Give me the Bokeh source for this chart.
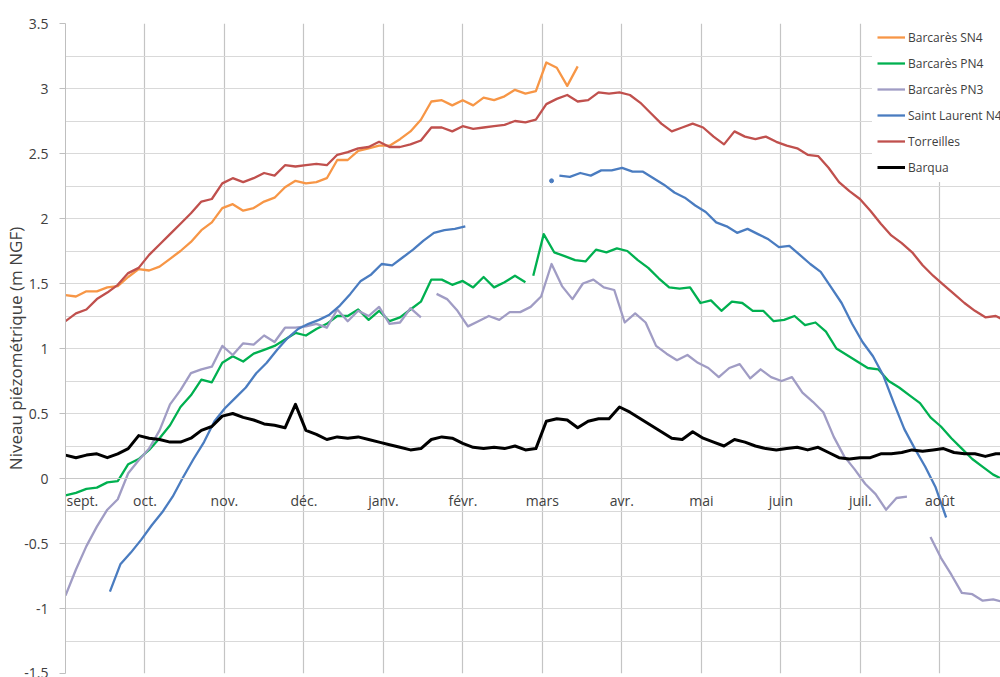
from bokeh.plotting import figure
from bokeh.models import Range1d, FixedTicker, NumeralTickFormatter, Legend, LegendItem, Label, Span
from bokeh.embed import file_html
from bokeh.resources import INLINE

# ---------------- data ----------------
# x = days since 1 September, series sampled every STEP days from a start day
STEP = 4

months = ["sept.", "oct.", "nov.", "déc.", "janv.", "févr.", "mars", "avr.", "mai", "juin", "juil.", "août"]
month_start_days = [0, 30.42, 60.83, 91.25, 121.67, 152.08, 182.5, 212.92, 243.33, 273.75, 304.17, 334.58]

y_major_ticks = [-1.5, -1, -0.5, 0, 0.5, 1, 1.5, 2, 2.5, 3, 3.5]
y_grid_ticks = [-1.5, -1.25, -1, -0.75, -0.5, -0.25, 0, 0.25, 0.5, 0.75, 1, 1.25, 1.5,
                1.75, 2, 2.25, 2.5, 2.75, 3, 3.25, 3.5]

barcares_sn4_start = 0
barcares_sn4 = [1.41, 1.40, 1.44, 1.44, 1.47, 1.48, 1.55, 1.61, 1.60, 1.63,
                1.69, 1.75, 1.82, 1.91, 1.97, 2.08, 2.11, 2.06, 2.08, 2.13,
                2.16, 2.24, 2.29, 2.27, 2.28, 2.31, 2.45, 2.45, 2.52, 2.54,
                2.56, 2.56, 2.61, 2.67, 2.76, 2.90, 2.91, 2.87, 2.91, 2.87,
                2.93, 2.91, 2.94, 2.99, 2.96, 2.98, 3.20, 3.16, 3.02, 3.17]

barcares_pn4_a_start = 0
barcares_pn4_a = [-0.13, -0.11, -0.08, -0.07, -0.03, -0.02, 0.11, 0.15, 0.22, 0.31,
                  0.41, 0.55, 0.64, 0.76, 0.74, 0.89, 0.94, 0.90, 0.96, 0.99,
                  1.02, 1.07, 1.12, 1.10, 1.15, 1.19, 1.25, 1.25, 1.30, 1.22,
                  1.29, 1.21, 1.24, 1.30, 1.36, 1.53, 1.53, 1.49, 1.52, 1.47,
                  1.55, 1.47, 1.51, 1.56, 1.51]
barcares_pn4_b_start = 179
barcares_pn4_b = [1.56, 1.88, 1.74, 1.71, 1.68, 1.67, 1.76, 1.74, 1.77, 1.75,
                  1.68, 1.62, 1.54, 1.47, 1.46, 1.47, 1.35, 1.37, 1.29, 1.36,
                  1.35, 1.29, 1.29, 1.21, 1.22, 1.25, 1.18, 1.20, 1.13, 1.00,
                  0.95, 0.90, 0.85, 0.84, 0.75, 0.70, 0.64, 0.58, 0.47, 0.40,
                  0.31, 0.23, 0.15, 0.09, 0.03, -0.01]

barcares_pn3_a_start = 0
barcares_pn3_a = [-0.90, -0.70, -0.52, -0.37, -0.24, -0.16, 0.04, 0.14, 0.23, 0.37,
                  0.57, 0.68, 0.81, 0.84, 0.86, 1.02, 0.95, 1.04, 1.03, 1.10,
                  1.05, 1.16, 1.16, 1.17, 1.19, 1.16, 1.30, 1.21, 1.29, 1.25,
                  1.32, 1.19, 1.20, 1.31, 1.24]
barcares_pn3_b_start = 142
barcares_pn3_b = [1.42, 1.38, 1.29, 1.17, 1.21, 1.25, 1.22, 1.28, 1.28, 1.32,
                  1.40, 1.65, 1.48, 1.38, 1.50, 1.53, 1.47, 1.45, 1.20, 1.27,
                  1.20, 1.02, 0.96, 0.91, 0.95, 0.89, 0.85, 0.78, 0.85, 0.88,
                  0.77, 0.84, 0.78, 0.75, 0.78, 0.66, 0.59, 0.51, 0.32, 0.17,
                  0.07, -0.04, -0.12, -0.24, -0.15, -0.14]
barcares_pn3_c_start = 331
barcares_pn3_c = [-0.45, -0.61, -0.74, -0.88, -0.89, -0.94, -0.93, -0.95]

saint_laurent_a_start = 17
saint_laurent_a = [-0.87, -0.66, -0.57, -0.47, -0.36, -0.26, -0.14, 0.01, 0.15, 0.28,
                   0.44, 0.54, 0.62, 0.70, 0.81, 0.89, 0.99, 1.08, 1.15, 1.19,
                   1.22, 1.26, 1.33, 1.42, 1.52, 1.57, 1.65, 1.64, 1.70, 1.76,
                   1.83, 1.89, 1.91, 1.92, 1.94]
saint_laurent_dot_day = [186]
saint_laurent_dot = [2.29]
saint_laurent_b_start = 189
saint_laurent_b = [2.33, 2.32, 2.35, 2.33, 2.37, 2.37, 2.39, 2.36, 2.36, 2.31,
                   2.26, 2.20, 2.16, 2.10, 2.05, 1.97, 1.94, 1.89, 1.92, 1.88,
                   1.84, 1.78, 1.79, 1.72, 1.65, 1.59, 1.47, 1.35, 1.19, 1.05,
                   0.94, 0.79, 0.58, 0.38, 0.23, 0.09, -0.07, -0.30]

torreilles_start = 0
torreilles = [1.21, 1.27, 1.30, 1.38, 1.43, 1.49, 1.58, 1.62, 1.72, 1.80,
              1.88, 1.96, 2.04, 2.13, 2.15, 2.27, 2.31, 2.28, 2.31, 2.35,
              2.33, 2.41, 2.40, 2.41, 2.42, 2.41, 2.49, 2.51, 2.54, 2.55,
              2.59, 2.55, 2.55, 2.57, 2.60, 2.70, 2.70, 2.67, 2.71, 2.69,
              2.70, 2.71, 2.72, 2.75, 2.74, 2.76, 2.88, 2.92, 2.95, 2.90,
              2.91, 2.97, 2.96, 2.97, 2.95, 2.89, 2.81, 2.73, 2.67, 2.70,
              2.73, 2.70, 2.63, 2.57, 2.67, 2.63, 2.61, 2.63, 2.59, 2.56,
              2.54, 2.49, 2.48, 2.39, 2.28, 2.21, 2.15, 2.06, 1.96, 1.87,
              1.81, 1.74, 1.64, 1.56, 1.49, 1.42, 1.35, 1.29, 1.24, 1.25,
              1.21]

barqua_start = 0
barqua = [0.18, 0.16, 0.18, 0.19, 0.16, 0.19, 0.23, 0.33, 0.31, 0.30,
          0.28, 0.28, 0.31, 0.37, 0.40, 0.48, 0.50, 0.47, 0.45, 0.42,
          0.41, 0.39, 0.57, 0.37, 0.34, 0.30, 0.32, 0.31, 0.32, 0.30,
          0.28, 0.26, 0.24, 0.22, 0.23, 0.30, 0.32, 0.31, 0.27, 0.24,
          0.23, 0.24, 0.23, 0.25, 0.22, 0.23, 0.44, 0.46, 0.45, 0.39,
          0.44, 0.46, 0.46, 0.55, 0.51, 0.46, 0.41, 0.36, 0.31, 0.30,
          0.36, 0.31, 0.28, 0.25, 0.30, 0.28, 0.25, 0.23, 0.22, 0.23,
          0.24, 0.22, 0.24, 0.20, 0.16, 0.15, 0.16, 0.16, 0.19, 0.19,
          0.20, 0.22, 0.21, 0.22, 0.23, 0.20, 0.19, 0.19, 0.17, 0.19,
          0.19]

# ---------------- styling ----------------
C_SN4 = "#f79646"
C_PN4 = "#00b050"
C_PN3 = "#a09cc4"
C_SL = "#4a7cc0"
C_TOR = "#c0504d"
C_BAR = "#000000"
FONT = "Open Sans"


def days(start, values):
    return [start + STEP * i for i in range(len(values))]


p = figure(width=1000, height=677,
           x_range=Range1d(0, 357.8), y_range=Range1d(-1.5, 3.5),
           output_backend="svg", toolbar_location=None,
           min_border_left=65, min_border_right=0, min_border_top=23, min_border_bottom=4)
p.outline_line_color = None
p.background_fill_color = "white"
p.border_fill_color = "white"

p.xaxis.visible = False
p.xgrid.ticker = FixedTicker(ticks=month_start_days)
p.xgrid.grid_line_color = "#c4c4c4"
p.xgrid.grid_line_width = 1.2
p.ygrid.ticker = FixedTicker(ticks=y_grid_ticks)
p.ygrid.grid_line_color = "#d9d9d9"
p.ygrid.grid_line_width = 1.2
p.add_layout(Span(location=0, dimension="width", line_color="#c8c8c8", line_width=1.2))

ya = p.yaxis[0]
ya.ticker = FixedTicker(ticks=y_major_ticks)
ya.formatter = NumeralTickFormatter(format="0.[0]")
ya.major_label_text_font = FONT
ya.major_label_text_font_size = "14px"
ya.major_label_text_color = "#404040"
ya.major_tick_out = 6
ya.major_tick_in = 0
ya.minor_tick_out = 0
ya.minor_tick_in = 0
ya.major_label_standoff = 11
ya.axis_line_color = "#bfbfbf"
ya.major_tick_line_color = "#bfbfbf"
ya.axis_label = "Niveau piézométrique (m NGF)"
ya.axis_label_standoff = -6
ya.axis_label_text_font = FONT
ya.axis_label_text_font_size = "17px"
ya.axis_label_text_font_style = "normal"
ya.axis_label_text_color = "#404040"

segments = [
    ("Barcarès SN4", C_SN4, 2.3, [(barcares_sn4_start, barcares_sn4)]),
    ("Barcarès PN4", C_PN4, 2.3, [(barcares_pn4_a_start, barcares_pn4_a), (barcares_pn4_b_start, barcares_pn4_b)]),
    ("Barcarès PN3", C_PN3, 2.3, [(barcares_pn3_a_start, barcares_pn3_a), (barcares_pn3_b_start, barcares_pn3_b),
                                  (barcares_pn3_c_start, barcares_pn3_c)]),
    ("Saint Laurent N4", C_SL, 2.3, [(saint_laurent_a_start, saint_laurent_a), (saint_laurent_b_start, saint_laurent_b)]),
    ("Torreilles", C_TOR, 2.3, [(torreilles_start, torreilles)]),
    ("Barqua", C_BAR, 3, [(barqua_start, barqua)]),
]

items = []
for name, color, lw, segs in segments:
    first = None
    for start, vals in segs:
        r = p.line(days(start, vals), vals, line_color=color, line_width=lw, line_join="round")
        if first is None:
            first = r
    if name == "Saint Laurent N4":
        p.scatter(saint_laurent_dot_day, saint_laurent_dot, size=4, color=color)
    items.append(LegendItem(label=name, renderers=[first]))

legend = Legend(items=items, location=(807, 491), orientation="vertical",
                border_line_alpha=0, background_fill_color="white", background_fill_alpha=1,
                padding=5, margin=0, spacing=6, glyph_width=28, glyph_height=20,
                label_height=20, label_standoff=3,
                label_text_font=FONT, label_text_font_size="12px", label_text_color="#404040")
p.add_layout(legend, "center")

# month names just below the zero line (the first one kept inside the plot area)
for d, m in zip(month_start_days, months):
    first = d == month_start_days[0]
    p.add_layout(Label(x=d, y=0, text=m, text_align="left" if first else "center",
                       x_offset=1 if first else 0, text_baseline="middle", y_offset=-22,
                       text_font=FONT, text_font_size="14px", text_color="#404040"))

open("out.html", "w").write(file_html(p, INLINE))
